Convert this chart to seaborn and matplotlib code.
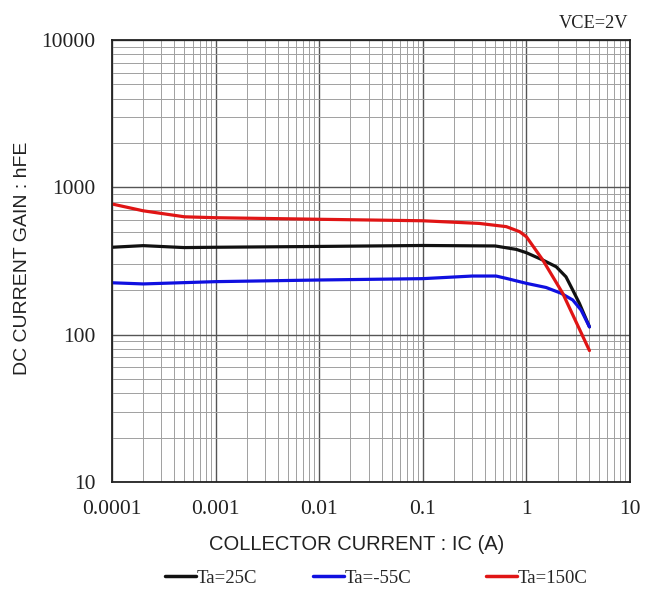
import numpy as np
import pandas as pd
import matplotlib
matplotlib.use("Agg")
import matplotlib.pyplot as plt
import seaborn as sns
from matplotlib.ticker import LogLocator, FixedLocator, FixedFormatter, NullFormatter
from matplotlib.lines import Line2D

# --- data ---
ic_25 = [0.0001, 0.0002, 0.0005, 0.001, 0.01, 0.1, 0.5, 0.8, 1.0, 1.44, 1.94, 2.41, 2.8, 3.25, 4.06]
hfe_25 = [392, 402, 390, 392, 397, 403, 400, 379, 360, 321, 289, 247, 201, 163, 113]

ic_m55 = [0.0001, 0.0002, 0.001, 0.01, 0.1, 0.3, 0.51, 0.64, 1.0, 1.55, 2.16, 2.8, 3.37, 4.06]
hfe_m55 = [225, 221, 229, 235, 240, 250, 250, 241, 223, 209, 191, 172, 147, 113]

ic_150 = [0.0001, 0.0002, 0.0005, 0.001, 0.01, 0.1, 0.35, 0.64, 0.86, 1.0, 1.44, 2.24, 4.06]
hfe_150 = [771, 693, 631, 622, 607, 593, 569, 541, 500, 462, 321, 191, 78]

series_names = ["Ta=25C", "Ta=-55C", "Ta=150C"]
series_colors = ["#111111", "#1010e0", "#e01515"]

x_ticks = [0.0001, 0.001, 0.01, 0.1, 1, 10]
x_tick_labels = ["0.0001", "0.001", "0.01", "0.1", "1", "10"]
y_ticks = [10, 100, 1000, 10000]
y_tick_labels = ["10", "100", "1000", "10000"]

df = pd.concat([
    pd.DataFrame({"IC": ic_25, "hFE": hfe_25, "series": series_names[0]}),
    pd.DataFrame({"IC": ic_m55, "hFE": hfe_m55, "series": series_names[1]}),
    pd.DataFrame({"IC": ic_150, "hFE": hfe_150, "series": series_names[2]}),
], ignore_index=True)

sns.set_style("white")
serif = ["Liberation Serif", "DejaVu Serif"]
sans = ["Liberation Sans", "DejaVu Sans"]

fig = plt.figure(figsize=(6.45, 5.89), dpi=100)
ax = fig.add_axes([112 / 645, 1 - 482 / 589, (630 - 112) / 645, (482 - 40) / 589])

sns.lineplot(data=df, x="IC", y="hFE", hue="series", hue_order=series_names,
             palette=dict(zip(series_names, series_colors)), linewidth=2.3,
             sort=False, estimator=None, legend=False, ax=ax)

ax.set_xscale("log")
ax.set_yscale("log")
ax.set_xlim(1e-4, 10)
ax.set_ylim(10, 10000)

ax.xaxis.set_major_locator(FixedLocator(x_ticks))
ax.xaxis.set_major_formatter(FixedFormatter(x_tick_labels))
ax.yaxis.set_major_locator(FixedLocator(y_ticks))
ax.yaxis.set_major_formatter(FixedFormatter(y_tick_labels))
ax.xaxis.set_minor_locator(LogLocator(base=10, subs=np.arange(2, 10)))
ax.yaxis.set_minor_locator(LogLocator(base=10, subs=np.arange(2, 10)))
ax.xaxis.set_minor_formatter(NullFormatter())
ax.yaxis.set_minor_formatter(NullFormatter())

ax.grid(which="major", color="#555555", linewidth=1.0)
ax.grid(which="minor", color="#a0a0a0", linewidth=0.7)
ax.set_axisbelow(True)
ax.tick_params(which="both", length=0)
ax.tick_params(axis="x", pad=13)
ax.tick_params(axis="y", pad=12)
for lab in ax.get_xticklabels() + ax.get_yticklabels():
    lab.set_fontfamily(serif)
    lab.set_fontsize(15.5)
    lab.set_color("#222222")

for sp in ax.spines.values():
    sp.set_color("#222222")
    sp.set_linewidth(1.3)

ax.set_xlabel("COLLECTOR CURRENT : IC (A)", fontfamily=sans, fontsize=14.5,
              color="#222222")
ax.xaxis.set_label_coords((357 - 112) / 518, (482 - 535) / 442)
ax.set_ylabel("DC CURRENT GAIN : hFE", fontfamily=sans, fontsize=14,
              color="#222222")
ax.yaxis.set_label_coords((31 - 112) / 518, (482 - 258) / 442)

fig.text(628 / 645, 1 - 24 / 589, "VCE=2V", ha="right", va="center",
         fontfamily=serif, fontsize=13.2, color="#222222")

legend_x = [165, 313, 486]
for name, color, lx in zip(series_names, series_colors, legend_x):
    h = Line2D([0], [0], color=color, linewidth=2.5)
    fig.legend([h], [name], loc="center left",
               bbox_to_anchor=(lx / 645, 1 - 578 / 589),
               frameon=False, prop={"family": serif, "size": 13.5},
               handlelength=1.65, handletextpad=0.05, borderpad=0, borderaxespad=0)

fig.savefig("out.png", dpi=100)
